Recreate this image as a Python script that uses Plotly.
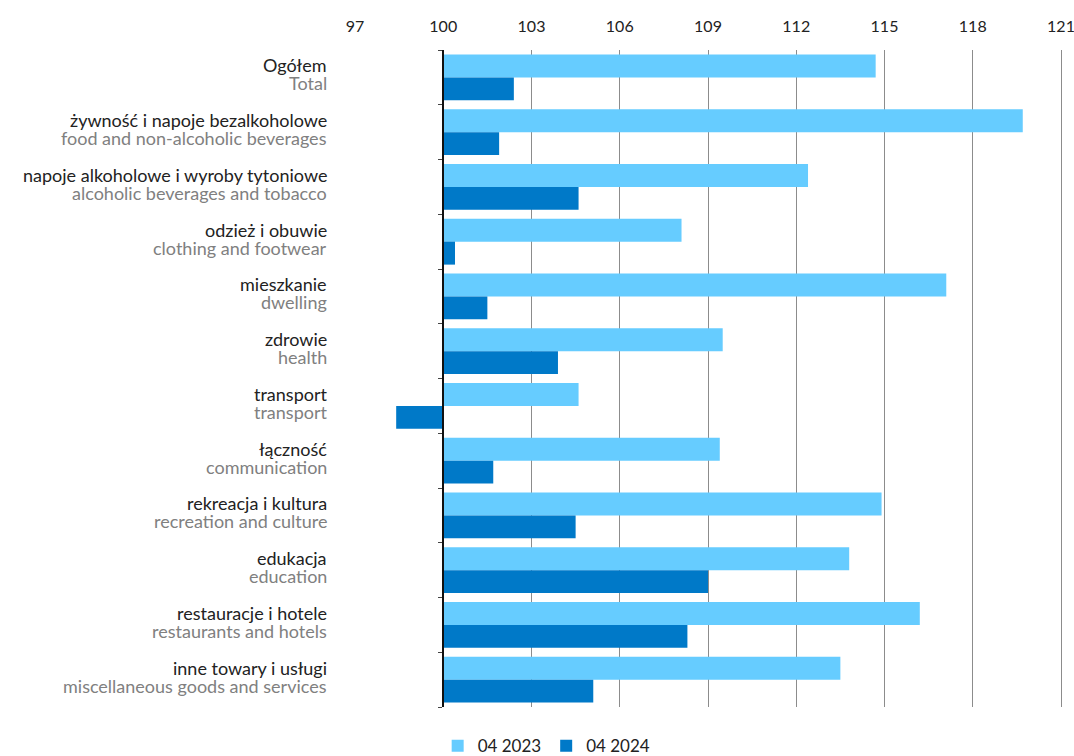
import plotly.graph_objects as go

# Price indices (same month of previous year = 100)
categories_pl = [
    "Ogółem", "żywność i napoje bezalkoholowe", "napoje alkoholowe i wyroby tytoniowe",
    "odzież i obuwie", "mieszkanie", "zdrowie", "transport", "łączność",
    "rekreacja i kultura", "edukacja", "restauracje i hotele", "inne towary i usługi",
]
categories_en = [
    "Total", "food and non-alcoholic beverages", "alcoholic beverages and tobacco",
    "clothing and footwear", "dwelling", "health", "transport", "communication",
    "recreation and culture", "education", "restaurants and hotels",
    "miscellaneous goods and services",
]
values_2023 = [114.7, 119.7, 112.4, 108.1, 117.1, 109.5, 104.6, 109.4, 114.9, 113.8, 116.2, 113.5]
values_2024 = [102.4, 101.9, 104.6, 100.4, 101.5, 103.9, 98.4, 101.7, 104.5, 109.0, 108.3, 105.1]
series_names = ["04 2023", "04 2024"]
x_ticks = [97, 100, 103, 106, 109, 112, 115, 118, 121]

BASE = 100
X_MIN, X_MAX = 97, 121.17   # small headroom so the 121 gridline and label are drawn
LIGHT = "#66CCFF"
DARK = "#0079C8"
FONT = "Lato"

positions = list(range(len(categories_pl)))

fig = go.Figure()
for name, vals, color in [(series_names[0], values_2023, LIGHT),
                          (series_names[1], values_2024, DARK)]:
    fig.add_trace(go.Bar(
        y=positions, x=[v - BASE for v in vals], base=BASE,
        orientation="h", name=name, marker=dict(color=color, line=dict(width=0)),
        customdata=vals, hovertemplate="%{customdata}<extra>" + name + "</extra>",
    ))

# invisible trace so the category-boundary axis at 100 is drawn
fig.add_trace(go.Scatter(x=[BASE], y=[0], yaxis="y2", mode="markers",
                         marker=dict(opacity=0), showlegend=False, hoverinfo="skip"))

# two-line category labels: Polish name above, English name below in grey
for pos, pl, en in zip(positions, categories_pl, categories_en):
    fig.add_annotation(x=-0.037, xref="paper", y=pos, yref="y", text=pl,
                       showarrow=False, xanchor="right", yanchor="middle",
                       yshift=12, font=dict(family=FONT, size=18, color="#222222"))
    fig.add_annotation(x=-0.037, xref="paper", y=pos, yref="y", text=en,
                       showarrow=False, xanchor="right", yanchor="middle",
                       yshift=-6, font=dict(family=FONT, size=18, color="#808080"))

n = len(positions)
fig.update_layout(
    width=1074, height=756,
    margin=dict(l=355, r=8, t=50, b=49, autoexpand=False),
    paper_bgcolor="white", plot_bgcolor="white",
    font=dict(family=FONT, size=16, color="#222222"),
    barmode="group", bargap=0.16, bargroupgap=0,
    xaxis=dict(
        range=[X_MIN, X_MAX], side="top", tickvals=x_ticks,
        showgrid=True, gridcolor="#8c8c8c", gridwidth=1,
        zeroline=False, showline=False, ticks="", ticklabelstandoff=14,
        tickfont=dict(size=16, color="#222222"), domain=[0, 1],
        tickangle=0, automargin=False, ticklabeloverflow="allow",
    ),
    yaxis=dict(
        range=[n - 0.5, -0.5], tickvals=positions, showticklabels=False,
        showgrid=False, zeroline=False, showline=False, ticks="",
        automargin=False,
    ),
    yaxis2=dict(
        overlaying="y", anchor="free",
        position=(BASE - X_MIN) / (X_MAX - X_MIN),
        range=[n - 0.5, -0.5],
        tickvals=[i - 0.5 for i in range(n + 1)],
        ticks="outside", ticklen=4, tickcolor="#444444", tickwidth=1,
        showticklabels=False, showgrid=False, zeroline=False,
        showline=True, linecolor="#111111", linewidth=1.5, automargin=False,
    ),
    legend=dict(
        orientation="h", xref="container", yref="container",
        x=0.509, xanchor="center", y=0.013, yanchor="middle",
        font=dict(family=FONT, size=17, color="#222222"),
        traceorder="normal",
    ),
    showlegend=True,
)

fig.write_html("out.html")
